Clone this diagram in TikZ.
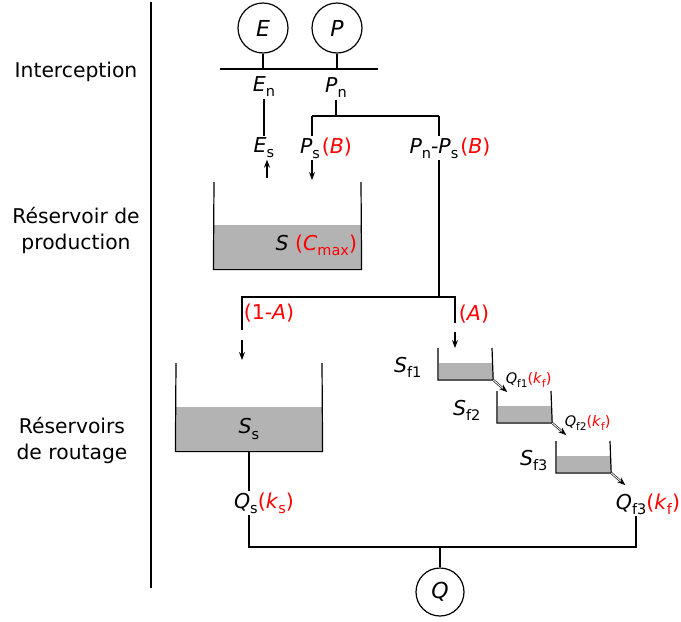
\documentclass[tikz,border=0pt]{standalone}
\usepackage{fontspec}
\setmainfont{DejaVu Sans}
\usetikzlibrary{arrows.meta, positioning}
\definecolor{parred}{HTML}{FF0000}
\definecolor{storegray}{HTML}{B3B3B3}
\newcommand{\ix}[2]{\textit{#1}\raisebox{-0.45ex}{\fontsize{14.5}{14.5}\selectfont #2}}
\newcommand{\ixs}[2]{\textit{#1}\raisebox{-0.45ex}{\fontsize{10.5}{10.5}\selectfont #2}}
\newcommand{\prm}[1]{\textcolor{parred}{(#1)}}
\tikzset{
  zone/.style   = {align=center, font=\fontsize{20.3}{26}\selectfont},
  var/.style    = {font=\fontsize{20.5}{24}\selectfont, inner sep=1pt},
  flux/.style   = {font=\fontsize{14.5}{16}\selectfont, inner sep=1pt},
  src/.style    = {circle, draw, minimum size=50pt, inner sep=0pt, font=\fontsize{22}{26}\selectfont},
  store/.style  = {rectangle, fill=storegray, inner sep=0pt},
  inflow/.style = {-{Stealth[length=8pt, width=6pt]}, line width=1.1pt},
  spill/.style  = {double, double distance=0.9pt, line width=0.6pt, -{Stealth[length=8pt, width=6pt]}},
}
\begin{document}
\begin{tikzpicture}[x=1pt, y=-1pt, line width=1.2pt]
    \useasboundingbox (0,0) rectangle (681,622);
    % stage names
    \node[zone] (intc) at (76,72)  {Interception};
    \node[zone] (prod) at (76,230) {Réservoir de\\production};
    \node[zone] (rout) at (72,440) {Réservoirs\\de routage};
    \coordinate (sepT) at (151,2);
    \coordinate (sepB) at (151,588);
    \draw (sepT) -- (sepB);

    % interception
    \node[src] (E) at (263,28) {\textit{E}};
    \node[src] (P) at (337,28) {\textit{P}};
    \coordinate (barL) at (220,69);
    \coordinate (barR) at (378,69);
    \draw (barL) -- (barR);
    \draw (E) -- (E |- barL);
    \draw (P) -- (P |- barL);
    \node[var] (En) at (264,87) {\ix{E}{n}};
    \node[var] (Pn) at (336,88) {\ix{P}{n}};
    \node[var] (Es)   at (264,148) {\ix{E}{s}};
    \node[var] (Ps)   at (326,148) {\ix{P}{s}\kern2pt\prm{\textit{B}}};
    \node[var] (PnPs) at (450,148) {\ix{P}{n}-\ix{P}{s}\kern2pt\prm{\textit{B}}};
    \coordinate (splitP) at (336,116);
    \coordinate (spL) at (312,116);
    \coordinate (spR) at (439,116);
    \draw (En) -- (Es);
    \draw (Pn) -- (splitP);
    \draw (spL) -- (spR);
    \draw (spL) -- (spL |- Ps.north);
    \draw (spR) -- (spR |- PnPs.north);

    % production store
    \node[store, minimum width=147pt, minimum height=44pt] (S) at (287.5,247) {};
    \draw (214,182) -- (S.south west) -- (S.south east) -- (361,182);
    \node[var, anchor=east] (Slbl) at ([xshift=-3pt, yshift=2pt]S.east) {\textit{S} \textcolor{parred}{(\ix{C}{max})}};
    \coordinate (evap) at (267,178);
    \coordinate (infil) at (312,180);
    \draw[inflow] (evap) -- (evap |- Es.south);
    \draw[inflow] (infil |- Ps.south) -- (infil);

    % split A / 1-A
    \coordinate (splitA) at (439,297);
    \coordinate (brL) at (242,297);
    \coordinate (brR) at (455,297);
    \coordinate (brLe) at (242,330);
    \coordinate (brRe) at (455,323);
    \draw (PnPs.south -| splitA) -- (splitA);
    \draw (brLe) -- (brL) -- (brR) -- (brRe);
    \node[var] (oneA) at (269,313) {\textcolor{parred}{(1-\textit{A})}};
    \node[var] (fA)   at (474,314) {\textcolor{parred}{(\textit{A})}};
    \coordinate (toSsT) at (242,340);
    \coordinate (toSs)  at (242,360);
    \coordinate (toSfT) at (455,332);
    \coordinate (toSf)  at (455,348);
    \draw[inflow] (toSsT) -- (toSs);
    \draw[inflow] (toSfT) -- (toSf);

    % slow routing store
    \node[store, minimum width=146pt, minimum height=44pt] (Ss) at (249,429) {\fontsize{20.5}{24}\selectfont\ix{S}{s}};
    \draw (176,363) -- (Ss.south west) -- (Ss.south east) -- (322,363);
    \node[var] (Qs) at (264,503) {\ix{Q}{s}\textcolor{parred}{(\ix{k}{s})}};
    \draw (Ss.south) -- (Ss.south |- Qs.north);

    % fast routing cascade
    \foreach \n/\xl/\yt/\gap in {1/438/348/15pt, 2/497/391/15pt, 3/556/441/7pt}{
        \node[store, minimum width=54pt, minimum height=16pt, anchor=south west] (Sf\n) at (\xl,\yt+32) {};
        \draw (\xl,\yt) -- (Sf\n.south west) -- (Sf\n.south east) -- (\xl+54,\yt);
        \node[var, anchor=east] (lbSf\n) at ([xshift=-\gap, yshift=4pt]Sf\n.west) {\ix{S}{f\n}};
        \coordinate (outSf\n) at ([xshift=14pt, yshift=-12pt]Sf\n.south east);
        \draw[spill] (Sf\n.south east) -- (outSf\n);
    }
    \foreach \n in {1,2}{
        \node[flux, anchor=west] (Qf\n) at ([xshift=11pt]Sf\n.south east) {\ixs{Q}{f\n}\textcolor{parred}{(\ixs{k}{f})}};
    }
    \node[var] (Qf3) at (648,504) {\ix{Q}{f3}\textcolor{parred}{(\ix{k}{f})}};

    % total flow
    \coordinate (joinL) at (249,547);
    \coordinate (joinC) at (440,547);
    \coordinate (joinR) at (636,547);
    \node[src, minimum size=48pt] (Q) at (440,592) {\textit{Q}};
    \draw (Qs.south -| joinL) -- (joinL) -- (joinR) -- (joinR |- Qf3.south);
    \draw (joinC) -- (Q);
\end{tikzpicture}
\end{document}
